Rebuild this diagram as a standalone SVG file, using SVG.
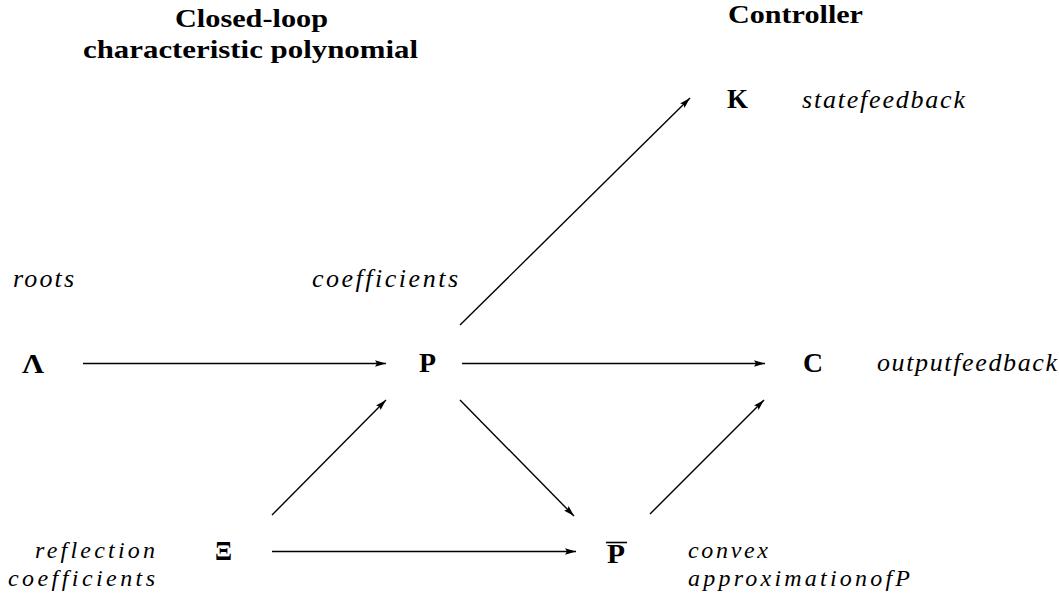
<svg xmlns="http://www.w3.org/2000/svg" width="1059" height="599" viewBox="0 0 1059 599">
<style>
.hd{font-family:"Liberation Serif",serif;font-weight:bold;font-size:25px;fill:#000}
.nd{font-family:"Liberation Serif",serif;font-weight:bold;font-size:27px;fill:#000}
.it{font-family:"Liberation Serif",serif;font-style:italic;font-size:26px;fill:#000}
.it2{font-family:"Liberation Serif",serif;font-style:italic;font-size:24px;fill:#000}
.cn{stroke:#000;stroke-width:1.4;fill:none;marker-end:url(#ah)}
</style>
<defs>
<marker id="ah" markerUnits="userSpaceOnUse" markerWidth="12" markerHeight="8" refX="11" refY="4" orient="auto">
<path d="M0,0.8 L11,4 L0,7.2 L2,4 Z" fill="#000"/>
</marker>
</defs>
<rect width="1059" height="599" fill="#fff"/>
<g id="titles">
<text class="hd" x="175" y="27" textLength="153" lengthAdjust="spacingAndGlyphs">Closed-loop</text>
<text class="hd" x="83" y="58" textLength="335" lengthAdjust="spacingAndGlyphs">characteristic polynomial</text>
<text class="hd" x="728" y="23" textLength="135" lengthAdjust="spacingAndGlyphs">Controller</text>
</g>
<g id="connectors">
<line class="cn" x1="83" y1="363.5" x2="386" y2="363.5"/>
<line class="cn" x1="462" y1="363.5" x2="765" y2="363.5"/>
<line class="cn" x1="272" y1="551.5" x2="576" y2="551.5"/>
<line class="cn" x1="460" y1="325" x2="690" y2="98"/>
<line class="cn" x1="272" y1="515" x2="386" y2="400"/>
<line class="cn" x1="460" y1="400" x2="574" y2="516"/>
<line class="cn" x1="650" y1="514" x2="764" y2="400"/>
</g>
<g id="node-Lambda">
<text class="nd" x="22" y="373" textLength="22" lengthAdjust="spacingAndGlyphs">Λ</text>
<text class="it" x="13" y="287" textLength="61" lengthAdjust="spacing">roots</text>
</g>
<g id="node-P">
<text class="nd" x="419" y="372" textLength="17" lengthAdjust="spacingAndGlyphs">P</text>
<text class="it" x="312" y="287" textLength="146" lengthAdjust="spacing">coefficients</text>
</g>
<g id="node-K">
<text class="nd" x="727" y="108" textLength="21" lengthAdjust="spacingAndGlyphs">K</text>
<text class="it" x="802" y="108" textLength="163" lengthAdjust="spacing">statefeedback</text>
</g>
<g id="node-C">
<text class="nd" x="803" y="372" textLength="20" lengthAdjust="spacingAndGlyphs">C</text>
<text class="it" x="877" y="371" textLength="180" lengthAdjust="spacing">outputfeedback</text>
</g>
<g id="node-Xi">
<text class="nd" x="215" y="560" textLength="17" lengthAdjust="spacingAndGlyphs">Ξ</text>
<text class="it2" x="155" y="558" text-anchor="end" textLength="120" lengthAdjust="spacing">reflection</text>
<text class="it2" x="155" y="586" text-anchor="end" textLength="147" lengthAdjust="spacing">coefficients</text>
</g>
<g id="node-Pbar">
<line x1="606" y1="542.5" x2="627" y2="542.5" stroke="#000" stroke-width="1.6"/>
<text class="nd" x="607" y="563" textLength="18" lengthAdjust="spacingAndGlyphs">P</text>
<text class="it2" x="688" y="558" textLength="80" lengthAdjust="spacing">convex</text>
<text class="it2" x="688" y="586" textLength="222" lengthAdjust="spacing">approximationofP</text>
</g>
</svg>
